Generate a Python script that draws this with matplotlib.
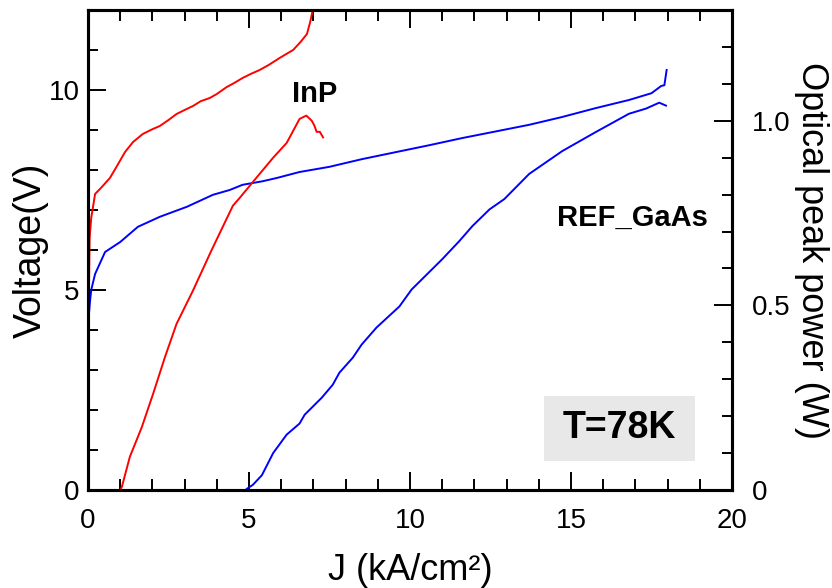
import matplotlib
matplotlib.use("Agg")
import matplotlib.pyplot as plt
from matplotlib.patches import Rectangle
from matplotlib.ticker import MultipleLocator

plt.rcParams['font.family'] = ['Liberation Sans', 'DejaVu Sans']

# InP voltage
j_inp_v = [0.0, 0.02, 0.03, 0.05, 0.1, 0.22, 0.4, 0.68, 0.9, 1.15, 1.4, 1.7, 2.0, 2.23, 2.5,
           2.75, 3.0, 3.26, 3.5, 3.78, 4.0, 4.3, 4.55, 4.8, 5.05, 5.33, 5.6, 5.95, 6.2, 6.37,
           6.6, 6.8, 6.9, 6.98]
v_inp = [2.3, 3.5, 5.0, 6.3, 6.8, 7.4, 7.55, 7.8, 8.1, 8.45, 8.7, 8.9, 9.02, 9.1, 9.25,
         9.4, 9.5, 9.6, 9.72, 9.8, 9.9, 10.07, 10.18, 10.3, 10.4, 10.5, 10.62, 10.8, 10.92, 11.0,
         11.2, 11.4, 11.7, 12.0]

# InP optical power
j_inp_p = [0.0, 0.3, 0.6, 0.9, 1.0, 1.05, 1.3, 1.67, 2.02, 2.39, 2.75, 3.26, 3.84, 4.5, 4.7,
           5.08, 5.75, 6.17, 6.57, 6.78, 6.95, 7.03, 7.1, 7.2, 7.3]
p_inp = [0.0, 0.0, 0.0, 0.0, 0.0, 0.008, 0.09, 0.17, 0.26, 0.36, 0.45, 0.54, 0.65, 0.77, 0.79,
         0.83, 0.90, 0.94, 1.005, 1.014, 1.0, 0.987, 0.97, 0.97, 0.955]

# REF GaAs voltage
j_gaas_v = [0.0, 0.03, 0.06, 0.1, 0.22, 0.53, 1.0, 1.55, 2.23, 3.07, 3.88, 4.4, 4.8, 5.43,
            5.86, 6.57, 7.5, 8.5, 9.58, 10.6, 11.63, 12.7, 13.7, 14.7, 15.78, 16.8, 17.5,
            17.8, 17.9, 17.97]
v_gaas = [4.0, 4.4, 4.7, 5.0, 5.4, 5.95, 6.2, 6.58, 6.83, 7.08, 7.38, 7.5, 7.63, 7.72,
          7.8, 7.95, 8.08, 8.27, 8.45, 8.62, 8.8, 8.97, 9.13, 9.32, 9.55, 9.75, 9.92,
          10.1, 10.12, 10.5]

# REF GaAs optical power
j_gaas_p = [4.93, 5.12, 5.4, 5.75, 6.17, 6.57, 6.73, 7.26, 7.6, 7.81, 8.22, 8.5, 8.96, 9.67,
            10.05, 11.0, 11.53, 11.94, 12.47, 12.93, 13.7, 14.73, 15.78, 16.8, 17.33, 17.74,
            17.95]
p_gaas = [0.003, 0.014, 0.04, 0.10, 0.15, 0.18, 0.204, 0.25, 0.285, 0.318, 0.358, 0.394,
          0.44, 0.497, 0.543, 0.625, 0.674, 0.715, 0.76, 0.788, 0.856, 0.918, 0.97, 1.019,
          1.033, 1.049, 1.041]

fig = plt.figure(figsize=(8.32, 5.88), dpi=100)
ax = fig.add_axes([88/832, 98/588, 644/832, 480/588])
ax2 = ax.twinx()

lw = 1.4
ax.plot(j_inp_v, v_inp, color='#ff0000', lw=lw)
ax.plot(j_gaas_v, v_gaas, color='#0000ff', lw=lw)
ax2.plot(j_inp_p, p_inp, color='#ff0000', lw=lw)
ax2.plot(j_gaas_p, p_gaas, color='#0000ff', lw=lw)

ax.set_xlim(0, 20)
ax.set_ylim(0, 12)
ax2.set_ylim(0, 1.3)

ax.xaxis.set_major_locator(MultipleLocator(5))
ax.xaxis.set_minor_locator(MultipleLocator(1))
ax.yaxis.set_major_locator(MultipleLocator(5))
ax.yaxis.set_minor_locator(MultipleLocator(1))
ax2.yaxis.set_major_locator(MultipleLocator(0.5))
ax2.yaxis.set_minor_locator(MultipleLocator(0.1))

for a in (ax, ax2):
    for s in a.spines.values():
        s.set_linewidth(2.2)

ax.tick_params(axis='x', which='both', direction='in', top=True, bottom=True,
               labelsize=20, pad=13, width=1.4)
ax.tick_params(axis='x', which='major', length=13)
ax.tick_params(axis='x', which='minor', length=8)
ax.tick_params(axis='y', which='both', direction='in', left=True, right=False,
               labelsize=20, pad=6, width=1.4)
ax.tick_params(axis='y', which='major', length=13)
ax.tick_params(axis='y', which='minor', length=7)
ax2.tick_params(axis='y', which='both', direction='in', right=True, left=False,
                labelsize=20, pad=14, width=1.4)
ax2.tick_params(axis='y', which='major', length=13)
ax2.tick_params(axis='y', which='minor', length=7)

ax.set_yticks([0, 5, 10])
ax.set_yticklabels(['0', '5', '10'])
ax2.set_yticks([0, 0.5, 1.0])
ax2.set_yticklabels(['0', '0.5', '1.0'])

ax.set_xlabel('J (kA/cm²)', fontsize=26, labelpad=14)
ax.set_ylabel('Voltage(V)', fontsize=27, labelpad=0)
ax2.set_ylabel('Optical peak power (W)', fontsize=26, rotation=-90, labelpad=28)

ax.text(7.05, 9.9, 'InP', fontsize=21, fontweight='bold', ha='center', va='center')
ax.text(16.9, 6.8, 'REF_GaAs', fontsize=21, fontweight='bold', ha='center', va='center')

ax.add_patch(Rectangle((14.17, 0.73), 4.68, 1.62, facecolor='#e8e8e8', edgecolor='none', zorder=1))
ax.text(16.5, 1.55, 'T=78K', fontsize=27, fontweight='bold', ha='center', va='center', zorder=2)

fig.savefig('out.png', dpi=100)
